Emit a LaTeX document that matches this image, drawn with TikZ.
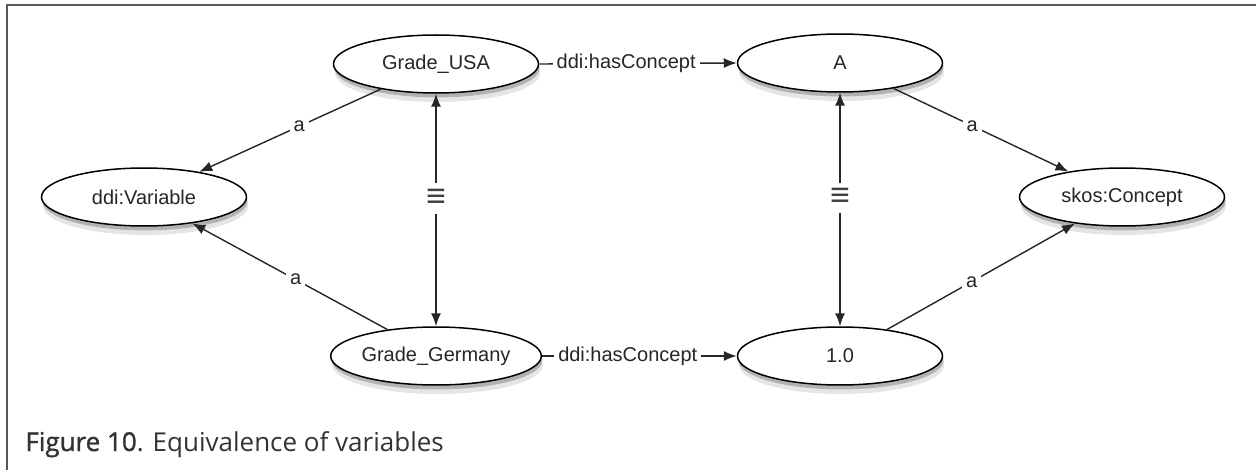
\documentclass[tikz,border=0pt]{standalone}
\usepackage{fontspec}
\setmainfont{Liberation Sans}
\newfontfamily\capfont{Open Sans}
\newfontfamily\capfontsb[FakeBold=1.2]{Open Sans}
\usetikzlibrary{shapes.geometric}
\usetikzlibrary{arrows.meta}
\usetikzlibrary{shadows}
\tikzstyle{concept}=[ellipse, draw=black, line width=0.75pt, fill=white, minimum width=102.5pt, minimum height=29pt, inner sep=0pt, text=black!85, font=\fontsize{10}{12}\selectfont,
	general shadow={fill=black!10, shadow xshift=0.8pt, shadow yshift=-4.5pt},
	general shadow={fill=black!30, shadow xshift=0.5pt, shadow yshift=-2.2pt}]
\tikzstyle{rel}=[fill=white, inner sep=2pt, text=black!85, font=\fontsize{10}{12}\selectfont]
\tikzstyle{same}=[fill=white, inner sep=3pt, text=black!75, font=\fontsize{17}{17}\selectfont]
\tikzstyle{frame}=[draw=black!65, line width=0.8pt]

\begin{document}
\begin{tikzpicture}[>={Latex[length=6.5pt,width=5pt]}]
	\useasboundingbox (0,0) rectangle (628pt,-235pt);
	\begin{scope}[x=0.5pt, y=-0.5pt]
	\draw[frame] (7,470) -- (7,5) -- (1256,5);
	% classes and instances
	\node (V) at (144,197) [concept] {ddi:Variable};
	\node (GU) at (436,64) [concept] {Grade\_USA};
	\node (GG) at (436,356) [concept] {Grade\_Germany};
	\node (CA) at (840,63) [concept] {A};
	\node (C1) at (840,356) [concept] {1.0};
	\node (SC) at (1122,197) [concept] {skos:Concept};
	% relations
	\path[->, line width=0.7pt, black!85]
		(GU) edge node [rel, pos=0.45] {a} (V)
		(GG) edge node [rel, pos=0.47] {a} (V)
		(CA) edge node [rel, pos=0.45] {a} (SC)
		(C1) edge node [rel, pos=0.45] {a} (SC)
		(GU.east) edge node [rel, pos=0.44] {ddi:hasConcept} (CA.west)
		(GG.east) edge node [rel, pos=0.44] {ddi:hasConcept} (C1.west);
	\path[<->, line width=0.7pt, black!85]
		(GU) edge node [same, pos=0.45] {≡} (GG)
		(CA) edge node [same, pos=0.45] {≡} (C1);
	% caption
	\node (cap) at (25,451) [anchor=base west, inner sep=0pt, text=black!80, font=\fontsize{13}{15}\selectfont] {{\capfontsb Figure 10}\capfont. Equivalence of variables};
	\end{scope}
\end{tikzpicture}
\end{document}
